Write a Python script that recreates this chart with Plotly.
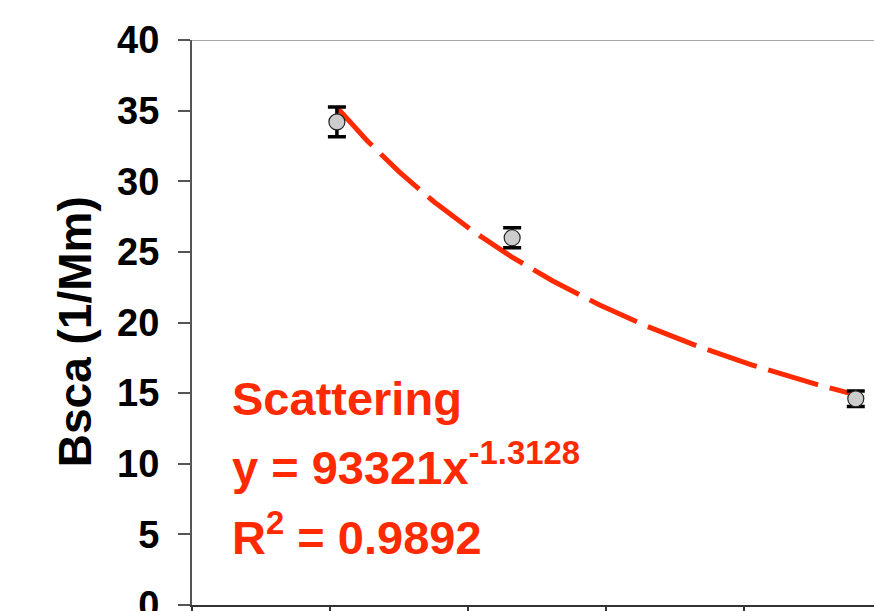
import numpy as np
import plotly.graph_objects as go

# Measured scattering coefficient at three wavelengths (nm)
wavelength = [405, 532, 781]
bsca = [34.2, 26.0, 14.6]
bsca_err = [1.05, 0.7, 0.55]

# Power-law fit reported for the scattering data
fit_coef = 93321
fit_exp = -1.3128
fit_r2 = 0.9892

y_ticks = [0, 5, 10, 15, 20, 25, 30, 35, 40]

RED = "#FF2A00"
FONT = "Arial, Liberation Sans, sans-serif"

fit_x = np.linspace(wavelength[0], wavelength[-1], 200)
fit_y = fit_coef * fit_x ** fit_exp

fig = go.Figure()

fig.add_trace(go.Scatter(
    x=fit_x, y=fit_y, mode="lines",
    line=dict(color=RED, width=5, dash="52px,12px"),
    hoverinfo="skip", showlegend=False,
))

fig.add_trace(go.Scatter(
    x=wavelength, y=bsca, mode="markers",
    marker=dict(size=16, color="#CCCCCC", line=dict(color="#222222", width=1.2)),
    error_y=dict(type="data", array=bsca_err, color="#000000", thickness=3.5, width=9),
    showlegend=False,
))

fig.update_layout(
    width=874, height=611,
    margin=dict(l=192, r=0, t=40, b=6),
    paper_bgcolor="white", plot_bgcolor="white",
    font=dict(family=FONT, color="black"),
    showlegend=False,
)

fig.update_xaxes(
    range=[300, 794.2], dtick=100, tick0=300,
    showgrid=False, zeroline=False,
    showline=True, linecolor="#333333", linewidth=2,
    ticks="outside", ticklen=10, tickwidth=2, tickcolor="#333333",
    showticklabels=False,
    automargin=False,
)

fig.update_yaxes(
    range=[0, 40], tickvals=y_ticks,
    showgrid=False, zeroline=False,
    showline=True, linecolor="#555555", linewidth=2,
    ticks="outside", ticklen=12, tickwidth=1.5, tickcolor="#555555",
    tickfont=dict(size=38, family=FONT, weight="bold"),
    ticklabelstandoff=11,
    ticklabeloverflow="allow",
    automargin=False,
)

# Light top border of the plot area
fig.add_shape(type="line", xref="paper", yref="y", x0=0, x1=1, y0=40, y1=40,
              line=dict(color="#A8A8A8", width=2))

# Y-axis title
fig.add_annotation(
    text="<b>Bsca (1/Mm)</b>", xref="paper", yref="paper",
    x=-0.172, y=0.484, textangle=-90, showarrow=False,
    xanchor="center", yanchor="middle",
    font=dict(size=46, family=FONT, color="black"),
)

# Fit equation block
lines = [
    ("<b>Scattering</b>", 0.365),
    (f"<b>y = {fit_coef}x<sup>{fit_exp}</sup></b>", 0.250),
    (f"<b>R<sup>2</sup> = {fit_r2}</b>", 0.125),
]
for txt, yy in lines:
    fig.add_annotation(
        text=txt, xref="paper", yref="paper", x=0.056, y=yy,
        xanchor="left", yanchor="middle", showarrow=False,
        font=dict(size=47, family=FONT, color=RED),
    )

fig.write_html("out.html")
